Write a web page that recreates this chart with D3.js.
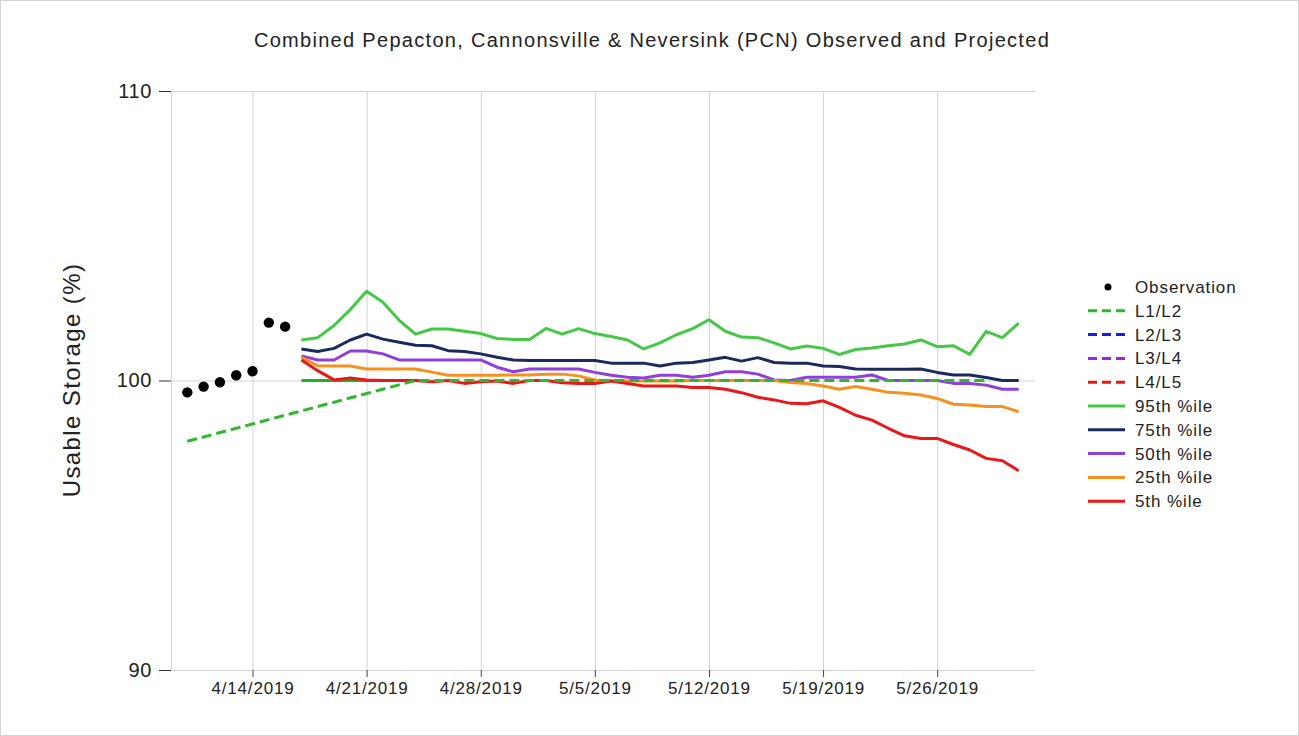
<!DOCTYPE html>
<html>
<head>
<meta charset="utf-8">
<script src="https://cdn.jsdelivr.net/npm/d3@7"></script>
<style>
  body { margin: 0; background: #fff; }
  svg { display: block; font-family: "Liberation Sans", Arial, sans-serif; }
</style>
</head>
<body>
<svg id="chart" width="1299" height="736"></svg>
<script>
// Observed storage
var obsDates = ['4/10', '4/11', '4/12', '4/13', '4/14', '4/15', '4/16'];
var obsValues = [99.59, 99.79, 99.94, 100.18, 100.32, 102.0, 101.86];

// L1/L2 drought rule curve
var ruleDates = ['4/10', '4/24', '5/29'];
var ruleValues = [97.9, 100, 100];
var ruleFlatDates = ['4/17', '4/24'];
var ruleFlatValues = [100, 100];

// Projection dates
var projDates = ['4/17', '4/18', '4/19', '4/20', '4/21', '4/22', '4/23', '4/24', '4/25', '4/26',
  '4/27', '4/28', '4/29', '4/30', '5/1', '5/2', '5/3', '5/4', '5/5', '5/6', '5/7', '5/8',
  '5/9', '5/10', '5/11', '5/12', '5/13', '5/14', '5/15', '5/16', '5/17', '5/18', '5/19',
  '5/20', '5/21', '5/22', '5/23', '5/24', '5/25', '5/26', '5/27', '5/28', '5/29', '5/30', '5/31'];

// Percentile projections
var p95 = [101.4, 101.48, 101.9, 102.45, 103.08, 102.7, 102.08, 101.6, 101.78, 101.78,
  101.7, 101.62, 101.45, 101.42, 101.42, 101.8, 101.6, 101.79, 101.62, 101.52, 101.4, 101.09,
  101.3, 101.58, 101.79, 102.1, 101.7, 101.5, 101.48, 101.3, 101.09, 101.19, 101.11,
  100.9, 101.07, 101.12, 101.2, 101.26, 101.4, 101.17, 101.2, 100.9, 101.7, 101.48, 101.98];
var p75 = [101.09, 101.0, 101.11, 101.4, 101.6, 101.43, 101.32, 101.22, 101.2, 101.03,
  101.0, 100.92, 100.8, 100.71, 100.69, 100.69, 100.69, 100.69, 100.69, 100.6, 100.6, 100.6,
  100.5, 100.6, 100.62, 100.71, 100.8, 100.67, 100.79, 100.62, 100.6, 100.6, 100.5,
  100.48, 100.4, 100.39, 100.39, 100.39, 100.4, 100.28, 100.19, 100.19, 100.1, 100.0, 100.0];
var p50 = [100.85, 100.71, 100.71, 101.02, 101.02, 100.92, 100.71, 100.71, 100.71, 100.71,
  100.71, 100.71, 100.46, 100.3, 100.4, 100.4, 100.4, 100.4, 100.28, 100.18, 100.11, 100.09,
  100.18, 100.18, 100.11, 100.18, 100.3, 100.3, 100.22, 100.02, 100.0, 100.11, 100.11,
  100.11, 100.11, 100.19, 100.0, 100.0, 100.0, 100.0, 99.9, 99.9, 99.84, 99.7, 99.7];
var p25 = [100.8, 100.51, 100.5, 100.5, 100.4, 100.4, 100.4, 100.4, 100.29, 100.18,
  100.18, 100.18, 100.18, 100.19, 100.19, 100.22, 100.22, 100.16, 100.02, 99.98, 99.98, 99.98,
  99.98, 99.98, 100.0, 100.0, 100.0, 100.0, 100.0, 100.0, 99.93, 99.9, 99.81,
  99.7, 99.79, 99.7, 99.59, 99.56, 99.5, 99.38, 99.18, 99.15, 99.1, 99.1, 98.92];
var p05 = [100.71, 100.34, 100.02, 100.09, 100.02, 100.0, 100.0, 100.0, 99.96, 100.0,
  99.9, 99.96, 99.98, 99.9, 100.0, 100.0, 99.92, 99.9, 99.9, 99.98, 99.9, 99.81,
  99.81, 99.81, 99.76, 99.76, 99.7, 99.58, 99.42, 99.33, 99.21, 99.2, 99.3,
  99.07, 98.8, 98.63, 98.35, 98.09, 98.0, 98.0, 97.79, 97.6, 97.31, 97.23, 96.88];

// Axis ticks
var xTickLabels = ['4/14/2019', '4/21/2019', '4/28/2019', '5/5/2019', '5/12/2019', '5/19/2019', '5/26/2019'];
var yTickValues = [90, 100, 110];

var parseDay = function(s) { return d3.timeParse('%m/%d/%Y')(s + '/2019'); };
var parseFull = d3.timeParse('%m/%d/%Y');

var svg = d3.select('#chart');
var W = 1299, H = 736;
var plotLeft = 171, plotRight = 1035, plotTop = 91, plotBottom = 670;

// outer frame
svg.append('rect')
  .attr('x', 0.5).attr('y', 0.5)
  .attr('width', W - 1).attr('height', H - 1)
  .attr('fill', '#fff').attr('stroke', '#d4d4d4');

var x = d3.scaleTime()
  .domain([parseDay('4/9'), parseDay('6/1')])
  .range([plotLeft, plotRight]);
var y = d3.scaleLinear()
  .domain([90, 110])
  .range([plotBottom, plotTop]);

var xTicks = xTickLabels.map(parseFull);

// grid lines
svg.append('g')
  .attr('transform', 'translate(0,' + plotBottom + ')')
  .call(d3.axisBottom(x).tickValues(xTicks).tickSize(-(plotBottom - plotTop)).tickFormat(''))
  .call(function(g) {
    g.select('.domain').remove();
    g.selectAll('line').attr('stroke', '#d3d3d3');
  });
svg.append('g')
  .attr('transform', 'translate(' + plotLeft + ',0)')
  .call(d3.axisLeft(y).tickValues(yTickValues).tickSize(-(plotRight - plotLeft)).tickFormat(''))
  .call(function(g) {
    g.select('.domain').attr('stroke', '#d3d3d3');
    g.selectAll('line').attr('stroke', '#d3d3d3');
  });

// x axis ticks + labels
svg.append('g')
  .attr('transform', 'translate(0,' + plotBottom + ')')
  .call(d3.axisBottom(x).tickValues(xTicks).tickSize(7).tickPadding(5)
    .tickFormat(function(d, i) { return xTickLabels[i]; }))
  .call(function(g) {
    g.select('.domain').remove();
    g.selectAll('line').attr('stroke', '#444');
    g.selectAll('text')
      .attr('fill', '#222')
      .style('font-size', '17px')
      .style('letter-spacing', '0.8px');
  });

// y axis ticks + labels
svg.append('g')
  .attr('transform', 'translate(' + plotLeft + ',0)')
  .call(d3.axisLeft(y).tickValues(yTickValues).tickSize(12).tickPadding(7))
  .call(function(g) {
    g.select('.domain').remove();
    g.selectAll('line').attr('stroke', '#333');
    g.selectAll('text')
      .attr('fill', '#222')
      .style('font-size', '20px')
      .style('letter-spacing', '0.6px');
  });

// title
svg.append('text')
  .attr('x', 652).attr('y', 47)
  .attr('text-anchor', 'middle')
  .attr('fill', '#222')
  .style('font-size', '20px')
  .style('letter-spacing', '1.3px')
  .text('Combined Pepacton, Cannonsville & Neversink (PCN) Observed and Projected');

// y label
svg.append('text')
  .attr('transform', 'translate(80,380) rotate(-90)')
  .attr('text-anchor', 'middle')
  .attr('fill', '#222')
  .style('font-size', '24px')
  .style('letter-spacing', '1.4px')
  .text('Usable Storage (%)');

var line = d3.line()
  .x(function(d) { return x(d.date); })
  .y(function(d) { return y(d.value); });

var pairs = function(dates, values) {
  return dates.map(function(s, i) { return {date: parseDay(s), value: values[i]}; });
};

var series = [
  {name: '95th %ile', values: p95, color: '#45c845'},
  {name: '75th %ile', values: p75, color: '#1b2a5e'},
  {name: '50th %ile', values: p50, color: '#8e40d8'},
  {name: '25th %ile', values: p25, color: '#f7901e'},
  {name: '5th %ile', values: p05, color: '#e81818'}
];

// solid flat part of the rule under the percentiles
svg.append('path')
  .datum(pairs(ruleFlatDates, ruleFlatValues))
  .attr('d', line)
  .attr('fill', 'none')
  .attr('stroke', '#22b022')
  .attr('stroke-width', 3);

series.forEach(function(s) {
  svg.append('path')
    .datum(pairs(projDates, s.values))
    .attr('d', line)
    .attr('fill', 'none')
    .attr('stroke', s.color)
    .attr('stroke-width', 3)
    .attr('stroke-linejoin', 'round');
});

// L1/L2 dashed rule
svg.append('path')
  .datum(pairs(ruleDates, ruleValues))
  .attr('d', line)
  .attr('fill', 'none')
  .attr('stroke', '#2db82d')
  .attr('stroke-width', 3)
  .attr('stroke-dasharray', '10,5');

// observations
svg.selectAll('circle.obs')
  .data(pairs(obsDates, obsValues))
  .enter()
  .append('circle')
  .attr('class', 'obs')
  .attr('cx', function(d) { return x(d.date); })
  .attr('cy', function(d) { return y(d.value); })
  .attr('r', 5.2)
  .attr('fill', '#000');

// legend
var legendItems = [
  {name: 'Observation', type: 'dot', color: '#000'},
  {name: 'L1/L2', type: 'dash', color: '#2db82d'},
  {name: 'L2/L3', type: 'dash', color: '#1a1aee'},
  {name: 'L3/L4', type: 'dash', color: '#a41ee0'},
  {name: 'L4/L5', type: 'dash', color: '#e01a1a'}
].concat(series.map(function(s) { return {name: s.name, type: 'line', color: s.color}; }));

var legend = svg.append('g').attr('transform', 'translate(1088,287)');
var rows = legend.selectAll('g')
  .data(legendItems)
  .enter()
  .append('g')
  .attr('transform', function(d, i) { return 'translate(0,' + (i * 23.8) + ')'; });

rows.filter(function(d) { return d.type === 'dot'; })
  .append('circle')
  .attr('cx', 20).attr('cy', 0).attr('r', 3.5)
  .attr('fill', function(d) { return d.color; });

rows.filter(function(d) { return d.type !== 'dot'; })
  .append('line')
  .attr('x1', 0).attr('x2', 37)
  .attr('y1', 0).attr('y2', 0)
  .attr('stroke', function(d) { return d.color; })
  .attr('stroke-width', 3)
  .attr('stroke-dasharray', function(d) { return d.type === 'dash' ? '9,5' : null; });

rows.append('text')
  .attr('x', 47).attr('y', 6)
  .attr('fill', '#222')
  .style('font-size', '17px')
  .style('letter-spacing', '0.9px')
  .text(function(d) { return d.name; });
</script>
</body>
</html>
